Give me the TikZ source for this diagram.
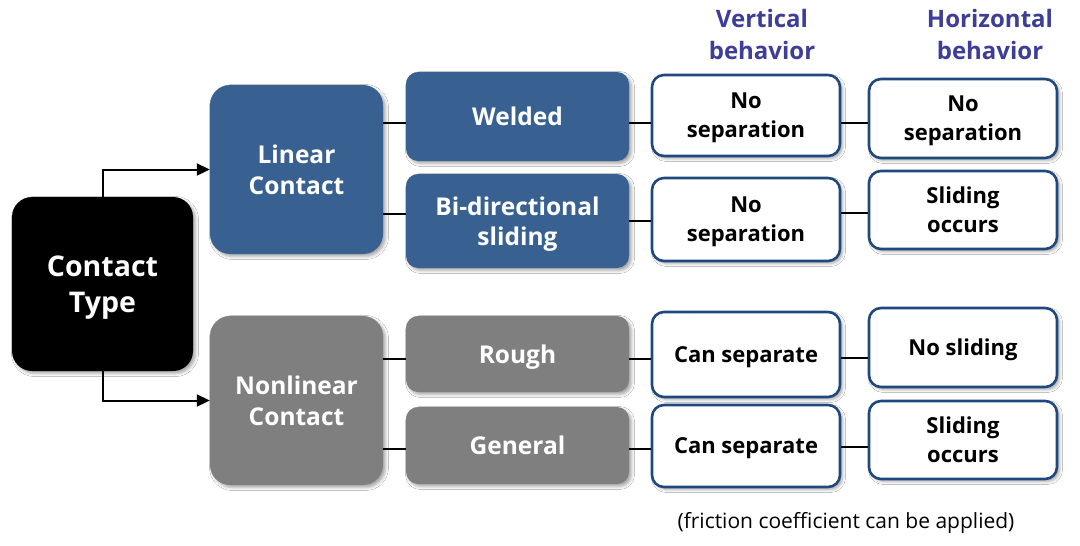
\documentclass[tikz,border=0pt]{standalone}
\usepackage{fontspec}
\setmainfont{Open Sans}
\usetikzlibrary{arrows.meta,shadows.blur}
\definecolor{cblue}{RGB}{56,97,146}
\definecolor{cgray}{RGB}{127,127,127}
\definecolor{cborder}{RGB}{31,73,125}
\definecolor{chead}{RGB}{62,62,152}
\begin{document}
\begin{tikzpicture}[x=1pt,y=-1pt,
  base/.style={inner sep=0pt, align=center, text=white, text depth=0pt,
    blur shadow={shadow xshift=2.5pt, shadow yshift=-2.5pt, shadow blur radius=3pt, shadow opacity=35}},
  bigbox/.style={base, rounded corners=20pt, font=\bfseries\fontsize{24.5}{31}\selectfont},
  midbox/.style={base, rounded corners=12pt, minimum width=223pt, font=\bfseries\fontsize{24.5}{30}\selectfont},
  bluebox/.style={fill=cblue},
  graybox/.style={fill=cgray},
  outbox/.style={base, rounded corners=12pt, fill=white, draw=cborder, line width=2.6pt, text=black,
    minimum width=188pt, font=\bfseries\fontsize{22}{29}\selectfont},
  head/.style={align=center, text=chead, font=\bfseries\fontsize{24}{32}\selectfont},
  conn/.style={line width=1.4pt, draw=black},
  arr/.style={line width=2pt, draw=black, -{Triangle[length=13pt,width=12pt]}}]
\useasboundingbox[fill=white] (0,0) rectangle (1080,546);

\node[bigbox, fill=black, minimum width=181pt, minimum height=174pt,
  font=\bfseries\fontsize{28.5}{36}\selectfont] (ct) at (102.5,284) {Contact\\Type};
\node[bigbox, bluebox, minimum width=173pt, minimum height=169pt] (lin) at (296.5,169.5) {Linear\\Contact};
\node[bigbox, graybox, minimum width=173pt, minimum height=169pt] (nlin) at (296.5,400.5) {Nonlinear\\Contact};

\node[midbox, bluebox, minimum height=89pt] (weld) at (517.5,116.5) {Welded};
\node[midbox, bluebox, minimum height=94pt] (bidir) at (517.5,221) {Bi-directional\\sliding};
\node[midbox, graybox, minimum height=76pt] (rough) at (517.5,354) {Rough};
\node[midbox, graybox, minimum height=77pt] (gen) at (517.5,445.5) {General};

\node[outbox, minimum height=81pt] (v1) at (746,115.5) {No\\separation};
\node[outbox, minimum height=83pt] (v2) at (746,219.5) {No\\separation};
\node[outbox, minimum height=85pt] (v3) at (746,354.5) {Can separate};
\node[outbox, minimum height=82pt] (v4) at (746,446) {Can separate};

\node[outbox, minimum height=79pt] (h1) at (963,118.5) {No\\separation};
\node[outbox, minimum height=78pt] (h2) at (963,210) {Sliding\\occurs};
\node[outbox, minimum height=79pt] (h3) at (963,347.5) {No sliding};
\node[outbox, minimum height=78pt] (h4) at (963,440) {Sliding\\occurs};

\node[head] (hv) at (762,34) {Vertical\\behavior};
\node[head] (hh) at (990,34) {Horizontal\\behavior};
\node[font=\fontsize{21}{26}\selectfont] (fn) at (846,523) {(friction coefficient can be applied)};

\draw[arr] (ct.north) |- (lin.west);
\draw[arr] (ct.south) |- (nlin.west);

\draw[conn] (lin.east |- 0,123) -- (weld.west |- 0,123);
\draw[conn] (lin.east |- 0,214) -- (bidir.west |- 0,214);
\draw[conn] (nlin.east |- 0,359) -- (rough.west |- 0,359);
\draw[conn] (nlin.east |- 0,449) -- (gen.west |- 0,449);

\draw[conn] (weld.east |- 0,123) -- (v1.west |- 0,123);
\draw[conn] (bidir.east |- 0,221) -- (v2.west |- 0,221);
\draw[conn] (rough.east |- 0,359) -- (v3.west |- 0,359);
\draw[conn] (gen.east |- 0,449) -- (v4.west |- 0,449);

\draw[conn] (v1.east |- 0,123) -- (h1.west |- 0,123);
\draw[conn] (v2.east |- 0,213) -- (h2.west |- 0,213);
\draw[conn] (v3.east |- 0,358) -- (h3.west |- 0,358);
\draw[conn] (v4.east |- 0,447) -- (h4.west |- 0,447);
\end{tikzpicture}
\end{document}
